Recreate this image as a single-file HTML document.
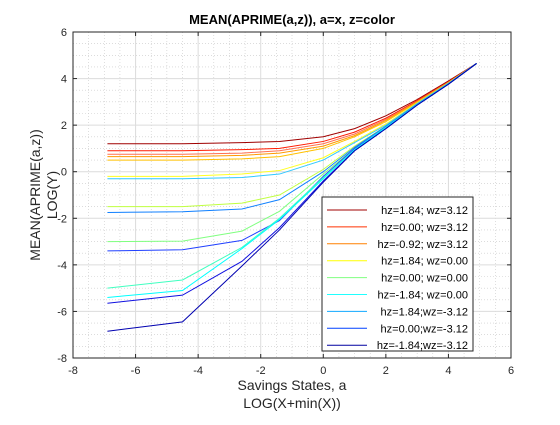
<!DOCTYPE html>
<html><head><meta charset="utf-8"><style>
body{margin:0;background:#fff;}
svg{font-family:"Liberation Sans",sans-serif;}
</style></head><body>
<svg id="c" width="560" height="420" viewBox="0 0 560 420">
<rect width="560" height="420" fill="#fff"/>
<g id="grid"></g>
<g id="lines"></g>
<g id="axes"></g>
<g id="legend"></g>
</svg>
<script>
const xs=[-6.9,-4.5,-2.6,-1.4,0,1,2,3,4,4.9];
const seriesColors=["#a00000","#ff1a00","#ff7050","#ff9a00","#ffc000","#ffff20","#30c8ff","#c0ff40","#1080ff","#80ff80","#2040ff","#40ffc0","#00ffff","#1010e0","#0000b0"];
const s1=[1.2,1.2,1.25,1.3,1.5,1.85,2.4,3.1,3.9,4.65];
const s2=[0.9,0.9,0.95,1.0,1.3,1.7,2.3,3.05,3.85,4.65];
const s3=[0.75,0.75,0.8,0.9,1.2,1.62,2.25,3.02,3.84,4.65];
const s4=[0.65,0.65,0.7,0.8,1.1,1.55,2.2,3.0,3.83,4.65];
const s5=[0.5,0.5,0.55,0.65,1.0,1.5,2.15,2.98,3.82,4.65];
const s6=[-0.2,-0.2,-0.1,0.05,0.6,1.3,2.05,2.95,3.8,4.65];
const s7=[-0.3,-0.3,-0.25,-0.1,0.5,1.25,2.0,2.93,3.8,4.65];
const s8=[-1.5,-1.5,-1.35,-1.0,0.1,1.1,1.95,2.9,3.78,4.65];
const s9=[-1.75,-1.72,-1.6,-1.2,0.0,1.05,1.95,2.9,3.78,4.65];
const s10=[-3.0,-2.98,-2.55,-1.7,-0.1,1.0,1.9,2.88,3.77,4.65];
const s11=[-3.4,-3.35,-2.95,-2.1,-0.2,1.0,1.9,2.88,3.77,4.65];
const s12=[-5.0,-4.65,-3.25,-2.0,-0.25,0.95,1.9,2.87,3.77,4.65];
const s13=[-5.4,-5.1,-3.3,-2.05,-0.3,0.95,1.9,2.87,3.77,4.65];
const s14=[-5.65,-5.3,-3.85,-2.4,-0.4,0.9,1.85,2.86,3.76,4.65];
const s15=[-6.85,-6.45,-4.05,-2.5,-0.45,0.9,1.85,2.86,3.76,4.65];
const series=[s1,s2,s3,s4,s5,s6,s7,s8,s9,s10,s11,s12,s13,s14,s15];
const xTicks=[-8,-6,-4,-2,0,2,4,6];
const yTicks=[-8,-6,-4,-2,0,2,4,6];
const legendLabels=["hz=1.84; wz=3.12","hz=0.00; wz=3.12","hz=-0.92; wz=3.12","hz=1.84; wz=0.00","hz=0.00; wz=0.00","hz=-1.84; wz=0.00","hz=1.84;wz=-3.12","hz=0.00;wz=-3.12","hz=-1.84;wz=-3.12"];
const legendColors=["#a00000","#ff3000","#ff8000","#ffff00","#80ff80","#20ffff","#10a8ff","#0040ff","#0000a0"];

const L=73,R=511,T=32,B=358;
const sx=v=>L+(v+8)/14*(R-L);
const sy=v=>T+(6-v)/14*(B-T);
const NS="http://www.w3.org/2000/svg";
function mk(tag,attrs,parent){const e=document.createElementNS(NS,tag);for(const k in attrs)e.setAttribute(k,attrs[k]);parent.appendChild(e);return e;}
const grid=document.getElementById('grid'),lines=document.getElementById('lines'),axes=document.getElementById('axes'),leg=document.getElementById('legend');
// minor grid
for(let v=-8;v<=6.001;v+=0.5){
  if(Math.abs(v-Math.round(v/2)*2)<1e-6)continue;
  const gx=mk('line',{x1:sx(v),x2:sx(v),y1:T,y2:B,stroke:"#c8c8c8","stroke-width":0.6,"stroke-dasharray":"1,2"},grid);
  
  const gy=mk('line',{x1:L,x2:R,y1:sy(v),y2:sy(v),stroke:"#c8c8c8","stroke-width":0.6,"stroke-dasharray":"1,2"},grid);
  
}
xTicks.forEach(t=>{
  const g=mk('line',{x1:sx(t),x2:sx(t),y1:T,y2:B,stroke:"#dcdcdc","stroke-width":1},grid);
  
  mk('line',{x1:sx(t),x2:sx(t),y1:B,y2:B-4,stroke:"#262626"},axes);
  mk('line',{x1:sx(t),x2:sx(t),y1:T,y2:T+4,stroke:"#262626"},axes);
  const tx=mk('text',{x:sx(t),y:B+16,"text-anchor":"middle","font-size":11,fill:"#262626"},axes);
  tx.textContent=t;
  
});
yTicks.forEach(t=>{
  const g=mk('line',{x1:L,x2:R,y1:sy(t),y2:sy(t),stroke:"#dcdcdc","stroke-width":1},grid);
  
  mk('line',{x1:L,x2:L+4,y1:sy(t),y2:sy(t),stroke:"#262626"},axes);
  mk('line',{x1:R,x2:R-4,y1:sy(t),y2:sy(t),stroke:"#262626"},axes);
  const tx=mk('text',{x:L-6,y:sy(t)+4,"text-anchor":"end","font-size":11,fill:"#262626"},axes);
  tx.textContent=t;
  
});
series.forEach((s,i)=>{
  const p=mk('polyline',{points:s.map((v,j)=>sx(xs[j])+","+sy(v)).join(" "),fill:"none",stroke:seriesColors[i],"stroke-width":1},lines);
  
});
const box=mk('rect',{x:L,y:T,width:R-L,height:B-T,fill:"none",stroke:"#262626","stroke-width":1},axes);

const title=mk('text',{x:292,y:24,"text-anchor":"middle","font-size":13,"font-weight":"bold",fill:"#000"},axes);
title.textContent="MEAN(APRIME(a,z)), a=x, z=color";

const xl1=mk('text',{x:292,y:390,"text-anchor":"middle","font-size":14,fill:"#262626"},axes);
xl1.textContent="Savings States, a";

const xl2=mk('text',{x:292,y:408,"text-anchor":"middle","font-size":14,fill:"#262626"},axes);
xl2.textContent="LOG(X+min(X))";

const yl1=mk('text',{x:0,y:0,"text-anchor":"middle","font-size":14,fill:"#262626",transform:"translate(40,195) rotate(-90)"},axes);
yl1.textContent="MEAN(APRIME(a,z))";

const yl2=mk('text',{x:0,y:0,"text-anchor":"middle","font-size":14,fill:"#262626",transform:"translate(57,195) rotate(-90)"},axes);
yl2.textContent="LOG(Y)";

const lb=mk('rect',{x:322,y:197,width:151,height:154,fill:"#fff",stroke:"#262626","stroke-width":1},leg);

legendLabels.forEach((lab,i)=>{
  const y=210+i*16.9;
  const ln=mk('line',{x1:327,x2:367,y1:y,y2:y,stroke:legendColors[i],"stroke-width":1},leg);
  
  const t=mk('text',{x:468,y:y+4,"text-anchor":"end","font-size":11,fill:"#000"},leg);
  t.textContent=lab;
  
});
</script>
</body></html>
